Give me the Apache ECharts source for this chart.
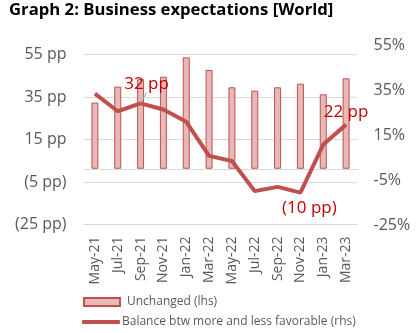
<!DOCTYPE html>
<html><head><meta charset="utf-8">
<script src="https://cdn.jsdelivr.net/npm/echarts@6/dist/echarts.min.js"></script>
<style>html,body{margin:0;padding:0;background:#fff}#c{width:418px;height:333px}</style>
</head><body><div id="c"></div>
<script>
const categories = ['May-21','Jul-21','Sep-21','Nov-21','Jan-22','Mar-22','May-22','Jul-22','Sep-22','Nov-22','Jan-23','Mar-23'];
const unchanged = [29.4, 36.5, 39.8, 40.9, 49.5, 43.9, 36.2, 34.7, 36.2, 37.8, 33.1, 40.2];
const balance = [36.6, 28.3, 32, 29.1, 23.3, 7.3, 4.9, -9.3, -7.3, -10, 12.6, 22];
const leftTicks = [-25, -5, 15, 35, 55];
const rightTicks = [-25, -5, 15, 35, 55];

const FONT = '"Open Sans", sans-serif';
const labelCfg = {
  2: {show: true, position: 'top', distance: 1, formatter: '32 pp'},
  9: {show: true, position: 'bottom', formatter: '(10 pp)'},
  11: {show: true, position: 'top', formatter: '22 pp'}
};
const labelShift = {2: {dx: 6, dy: -10}, 9: {dx: 9, dy: 2}, 11: {dx: 0, dy: 1}};
const lineData = balance.map((v, i) => {
  if (!labelCfg[i]) return v;
  const item = {value: v, label: Object.assign({color: '#C00000', fontSize: 17, fontFamily: FONT}, labelCfg[i])};
  item.labelLine = {show: i === 2, lineStyle: {color: '#a6a6a6', width: 1}};
  return item;
});

const chart = echarts.init(document.getElementById('c'), null, {renderer: 'canvas'});
chart.setOption({
  animation: false,
  title: {text: 'Graph 2: Business expectations [World]', left: 9, top: 2, padding: 0,
    textStyle: {fontFamily: FONT, fontSize: 16.7, fontWeight: 'bold', color: '#000'}},
  legend: [
    {left: 83, top: 296, itemWidth: 36, itemHeight: 8, padding: 0,
      textStyle: {fontFamily: FONT, fontSize: 12, color: '#595959', padding: [0, 0, 0, 2]},
      data: [{name: 'Unchanged (lhs)', icon: 'rect'}]},
    {left: 82, top: 316, itemWidth: 38, itemHeight: 4, padding: 0,
      textStyle: {fontFamily: FONT, fontSize: 12, color: '#595959', padding: [0, 0, 0, -3]},
      data: [{name: 'Balance btw more and less favorable (rhs)', icon: 'roundRect'}]}
  ],
  grid: [
    {left: 83.5, right: 60.5, top: 45, bottom: 108},
    {left: 83.5, right: 60.5, top: 54.5, bottom: 108.5}
  ],
  xAxis: [
    {type: 'category', gridIndex: 0, data: categories, axisLabel: {show: false}, axisTick: {show: false},
      axisLine: {show: true, onZero: true, lineStyle: {color: '#d9d9d9', width: 1}}},
    {type: 'category', gridIndex: 1, data: categories, axisTick: {show: false}, axisLine: {show: false},
      axisLabel: {rotate: 90, margin: 12, interval: 0, fontFamily: FONT, fontSize: 14, color: '#595959'}}
  ],
  yAxis: [
    {type: 'value', gridIndex: 0, position: 'right', min: rightTicks[0], max: rightTicks[rightTicks.length-1], interval: 20,
      splitLine: {show: false}, axisLine: {show: false}, axisTick: {show: false},
      axisLabel: {margin: 16, fontFamily: FONT, fontSize: 16, color: '#595959', formatter: v => v + '%'}},
    {type: 'value', gridIndex: 1, position: 'left', min: leftTicks[0], max: leftTicks[leftTicks.length-1], interval: 20,
      splitLine: {show: true, lineStyle: {color: '#d9d9d9', width: 1}}, axisLine: {show: false}, axisTick: {show: false},
      axisLabel: {margin: 17, fontFamily: FONT, fontSize: 16, color: '#595959',
        formatter: v => v < 0 ? '(' + Math.abs(v) + ' pp)' : v + ' pp'}}
  ],
  series: [
    {name: 'Unchanged (lhs)', type: 'bar', xAxisIndex: 0, yAxisIndex: 0, data: unchanged, barWidth: 7,
      itemStyle: {color: '#e6b9b8', borderColor: '#c0504d', borderWidth: 1}},
    {name: 'Balance btw more and less favorable (rhs)', type: 'line', xAxisIndex: 1, yAxisIndex: 1, data: lineData,
      symbol: 'circle', symbolSize: 0.01, showSymbol: true,
      labelLayout: p => labelShift[p.dataIndex] || {},
      lineStyle: {color: '#c0504d', width: 4}, itemStyle: {color: '#c0504d'}, z: 5}
  ]
});
</script></body></html>
